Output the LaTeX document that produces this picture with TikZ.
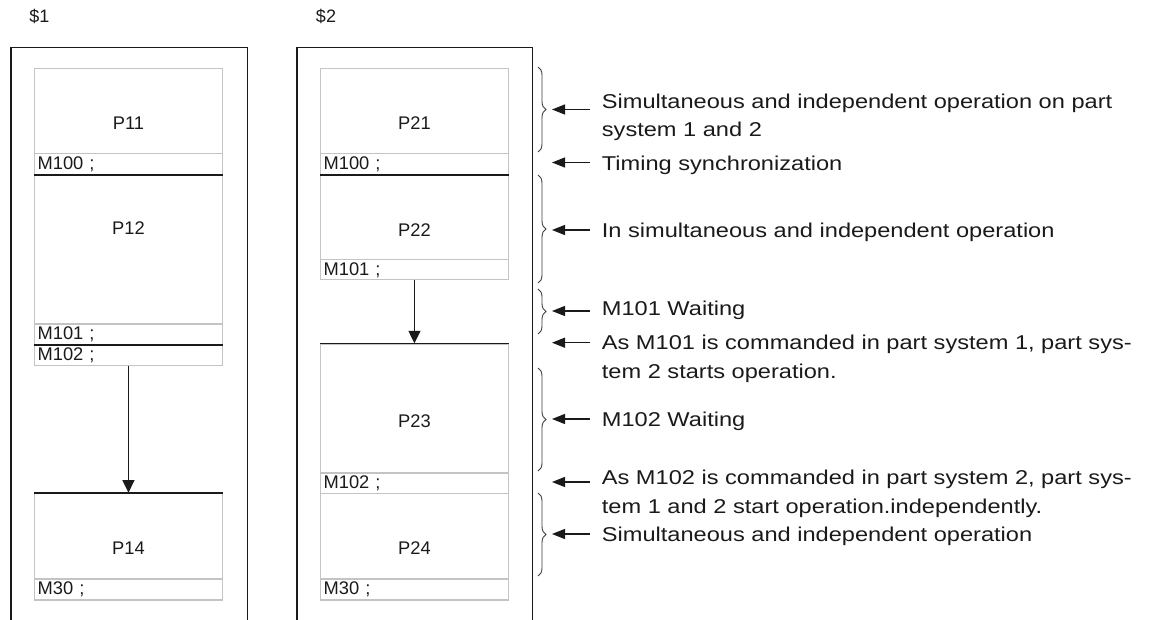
\documentclass[tikz,border=0pt]{standalone}
\usepackage{fontspec}
\setmainfont{Liberation Sans}
\newfontfamily\notefont[FakeStretch=1.18]{Liberation Sans}
\usetikzlibrary{decorations.pathreplacing,arrows.meta}
\definecolor{boxgray}{HTML}{C4C4C4}
\definecolor{ink}{HTML}{1A1A1A}
\newcommand\plab[2]{\raisebox{#1}[\height][\depth]{#2}}
\begin{document}
\begin{tikzpicture}[x=1pt,y=-1pt,
  outerbox/.style={draw=ink, line width=1.6pt, anchor=north west, minimum width=236.7pt, minimum height=640pt, inner sep=0pt},
  blk/.style={draw=boxgray, line width=1.2pt, anchor=north west, minimum width=187.7pt, inner sep=0pt, text=ink, font=\fontsize{18.3}{20}\selectfont},
  mrow/.style={blk, minimum height=20.7pt, text width=181.7pt, inner xsep=3pt, align=left},
  sep/.style={draw=ink, line width=1.6pt},
  flow/.style={draw=ink, line width=1.2pt, -{Triangle[length=12.5pt,width=12pt]}},
  pointer/.style={draw=ink, line width=1.2pt, -{Triangle[length=13pt,width=10pt]}},
  curly/.style={draw=ink!85, line width=0.9pt, decorate, decoration={brace, amplitude=8pt}},
  note/.style={anchor=base west, inner sep=0pt, align=left, text=ink, font=\notefont\fontsize{20}{28.5}\selectfont},
  syslabel/.style={text=ink, inner sep=0pt, font=\fontsize{18}{20}\selectfont}
]
\useasboundingbox (0,0) rectangle (1156,620);
\clip (0,0) rectangle (1156,620);

% system labels and frames
\node[syslabel] (l1) at (39.5,16) {\$1};
\node[syslabel] (l2) at (326,16) {\$2};
\node[outerbox] (sys1) at (10,46.7) {};
\node[outerbox, minimum width=235.7pt] (sys2) at (296,46.7) {};

% part system 1
\node[blk, minimum height=85.3pt] (p11) at (34,67.7) {\plab{-12.6pt}{P11}};
\node[mrow] (m100a) at (34,153) {M100 ;};
\node[blk, minimum height=149.6pt] (p12) at (34,173.7) {\plab{20.5pt}{P12}};
\node[mrow] (m101a) at (34,323.3) {M101 ;};
\node[mrow] (m102a) at (34,344) {M102 ;};
\node[blk, minimum height=85.6pt] (p14) at (34,492.7) {\plab{-11.8pt}{P14}};
\node[mrow, minimum height=21pt] (m30a) at (34,578.3) {M30 ;};

% part system 2
\node[blk, minimum height=85.3pt] (p21) at (320,67.7) {\plab{-12.6pt}{P21}};
\node[mrow] (m100b) at (320,153) {M100 ;};
\node[blk, minimum height=85.6pt] (p22) at (320,173.7) {\plab{-13.5pt}{P22}};
\node[mrow, minimum height=20pt] (m101b) at (320,259.3) {M101 ;};
\node[blk, minimum height=129pt] (p23) at (320,343.3) {\plab{-12.9pt}{P23}};
\node[mrow, minimum height=20.4pt] (m102b) at (320,472.3) {M102 ;};
\node[blk, minimum height=85.6pt] (p24) at (320,492.7) {\plab{-11.8pt}{P24}};
\node[mrow, minimum height=21pt] (m30b) at (320,578.3) {M30 ;};

% synchronization lines
\draw[sep] (m100a.south west) -- (m100a.south east);
\draw[sep] (m101a.south west) -- (m101a.south east);
\draw[sep] (p14.north west) -- (p14.north east);
\draw[sep] (m100b.south west) -- (m100b.south east);
\draw[sep] (p23.north west) -- (p23.north east);

% waiting arrows
\draw[flow] (m102a.south) -- (p14.north);
\draw[flow] (m101b.south) -- (p23.north);

% braces
\coordinate (b1t) at (538,67);  \coordinate (b1b) at (538,152);
\coordinate (b2t) at (538,175); \coordinate (b2b) at (538,283);
\coordinate (b3t) at (538,289); \coordinate (b3b) at (538,334);
\coordinate (b4t) at (538,368); \coordinate (b4b) at (538,471);
\coordinate (b5t) at (538,493); \coordinate (b5b) at (538,576);
\draw[curly] (b1t) -- (b1b);
\draw[curly] (b2t) -- (b2b);
\draw[curly] (b3t) -- (b3b);
\draw[curly] (b4t) -- (b4b);
\draw[curly] (b5t) -- (b5b);

% pointer arrows
\foreach \n/\y in {1/109.5,2/162.5,3/230,4/311,5/342.7,6/419,7/482,8/534}{
  \coordinate (as\n) at (590,\y);
  \coordinate (ae\n) at (552,\y);
  \draw[pointer] (as\n) -- (ae\n);
}

% notes (base anchor = baseline of the last line)
\node[note] (t1) at (601.7,137) {Simultaneous and independent operation on part\\system 1 and 2};
\node[note] (t2) at (601.7,171) {Timing synchronization};
\node[note] (t3) at (601.7,238) {In simultaneous and independent operation};
\node[note] (t4) at (601.7,316) {M101 Waiting};
\node[note] (t5) at (601.7,378) {As M101 is commanded in part system 1, part sys-\\tem 2 starts operation.};
\node[note] (t6) at (601.7,426) {M102 Waiting};
\node[note] (t7) at (601.7,513) {As M102 is commanded in part system 2, part sys-\\tem 1 and 2 start operation.independently.};
\node[note] (t8) at (601.7,541.5) {Simultaneous and independent operation};
\end{tikzpicture}
\end{document}
